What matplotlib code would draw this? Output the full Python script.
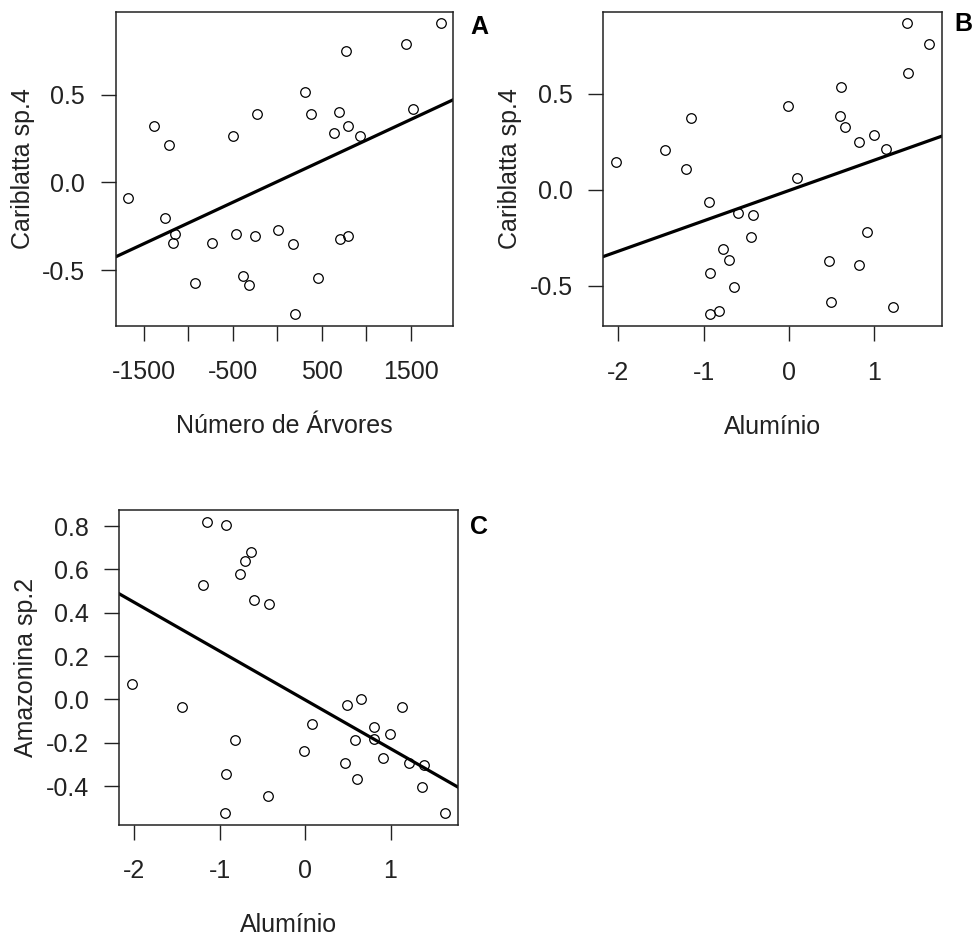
import numpy as np
import matplotlib
matplotlib.use('Agg')
import matplotlib.pyplot as plt

plt.rcParams['font.family'] = ['Liberation Sans', 'DejaVu Sans']
plt.rcParams['axes.unicode_minus'] = False

# Panel A: Cariblatta sp.4 vs Numero de Arvores
arv_x = [1834, 1452, 774, 317, -226, 384, 699, 796, 643, 935, 1527, -1383, -1211, -500, -1672,
         -1264, -1152, -1170, -728, -462, -253, 6, 174, 710, 796, -922, -383, -320, 463, 201]
arv_y = [0.907, 0.788, 0.75, 0.515, 0.39, 0.39, 0.40, 0.322, 0.282, 0.263, 0.42, 0.32, 0.214, 0.263, -0.089,
         -0.205, -0.292, -0.343, -0.343, -0.294, -0.303, -0.271, -0.352, -0.322, -0.303, -0.576, -0.536, -0.585, -0.545, -0.75]
arv_fit = (0.004, 0.0002364)   # intercept, slope

# Panel B: Cariblatta sp.4 vs Aluminio
alb_x = [1.381, 1.64, 1.396, 0.612, -0.015, 0.60, 0.652, 0.993, 0.816, 1.138, -1.145, -1.451, -2.027, -1.207, 0.09,
         -0.941, -0.596, -0.419, -0.443, 0.914, -0.768, -0.701, 0.471, 0.816, -0.921, -0.647, 0.494, 1.212, -0.921, -0.815]
alb_y = [0.865, 0.756, 0.606, 0.534, 0.437, 0.383, 0.328, 0.287, 0.250, 0.214, 0.373, 0.205, 0.143, 0.107, 0.062,
         -0.062, -0.121, -0.132, -0.247, -0.221, -0.309, -0.363, -0.373, -0.391, -0.435, -0.505, -0.584, -0.611, -0.648, -0.629]
alb_fit = (-0.004, 0.158)

# Panel C: Amazonina sp.2 vs Aluminio
alc_x = [-1.146, -0.927, -0.637, -0.704, -0.758, -1.20, -0.602, -0.418, -2.03, -1.444, 0.486, 0.654, 1.131, 0.082, 0.81,
         0.994, -0.825, 0.587, 0.81, -0.012, 0.908, 0.466, 1.214, 1.393, 0.607, -0.927, 1.366, -0.434, -0.943, 1.64]
alc_y = [0.820, 0.804, 0.678, 0.638, 0.577, 0.527, 0.458, 0.441, 0.071, -0.034, -0.025, 0.0, -0.034, -0.111, -0.126,
         -0.160, -0.189, -0.189, -0.183, -0.237, -0.269, -0.294, -0.295, -0.303, -0.365, -0.342, -0.403, -0.445, -0.523, -0.523]
alc_fit = (-0.002, -0.2247)

xticks_a = [-1500, -1000, -500, 0, 500, 1000, 1500]
xlabels_a = ['-1500', '', '-500', '', '500', '', '1500']
xticks_al = [-2, -1, 0, 1]
yticks_b = [-0.5, 0.0, 0.5]
yticks_c = [-0.4, -0.2, 0.0, 0.2, 0.4, 0.6, 0.8]

txt = '#222222'
fs = 18


def r_lim(v):
    lo, hi = min(v), max(v)
    pad = 0.04 * (hi - lo)
    return lo - pad, hi + pad


def panel(ax, x, y, fit, xlab, ylab, letter, letter_xy):
    ax.plot(x, y, 'o', mfc='none', mec='black', ms=6.9, mew=0.9)
    ax.set_xlim(r_lim(x))
    ax.set_ylim(r_lim(y))
    ax.axline((0, fit[0]), slope=fit[1], color='black', lw=2.3)
    for s in ax.spines.values():
        s.set_linewidth(1.1)
        s.set_color('#222222')
    ax.tick_params(length=11, width=1.0, labelsize=fs, colors=txt, direction='out')
    ax.tick_params(axis='x', pad=14)
    ax.tick_params(axis='y', pad=11)
    ax.set_xlabel(xlab, fontsize=fs, color=txt)
    ax.set_ylabel(ylab, fontsize=fs, color=txt)
    ax.xaxis.set_label_coords(0.5, -0.32)
    ax.xaxis.label.set_va('center')
    ax.yaxis.set_label_coords(-0.275, 0.5)
    ax.yaxis.label.set_va('center')
    ax.text(letter_xy[0], letter_xy[1], letter, transform=ax.transAxes, fontsize=fs,
            fontweight='bold', ha='center', va='center', color='black', clip_on=False)


fig = plt.figure(figsize=(9.74, 9.36), dpi=100)
ax_a = fig.add_axes([0.1188, 0.6522, 0.3463, 0.3353])
ax_b = fig.add_axes([0.6194, 0.6517, 0.3474, 0.3358])
ax_c = fig.add_axes([0.1225, 0.1191, 0.3474, 0.3360])

panel(ax_a, arv_x, arv_y, arv_fit, 'Número de Árvores', 'Cariblatta sp.4', 'A', (1.077, 0.951))
ax_a.set_xticks(xticks_a)
ax_a.set_xticklabels(xlabels_a)
ax_a.set_yticks(yticks_b)
ax_a.set_yticklabels(['%.1f' % v for v in yticks_b])

panel(ax_b, alb_x, alb_y, alb_fit, 'Alumínio', 'Cariblatta sp.4', 'B', (1.063, 0.961))
ax_b.set_xticks(xticks_al)
ax_b.set_xticklabels([str(v) for v in xticks_al])
ax_b.set_yticks(yticks_b)
ax_b.set_yticklabels(['%.1f' % v for v in yticks_b])

panel(ax_c, alc_x, alc_y, alc_fit, 'Alumínio', 'Amazonina sp.2', 'C', (1.063, 0.946))
ax_c.set_xticks(xticks_al)
ax_c.set_xticklabels([str(v) for v in xticks_al])
ax_c.set_yticks(yticks_c)
ax_c.set_yticklabels(['%.1f' % v for v in yticks_c])

fig.savefig('out.png', dpi=100, facecolor='white')
